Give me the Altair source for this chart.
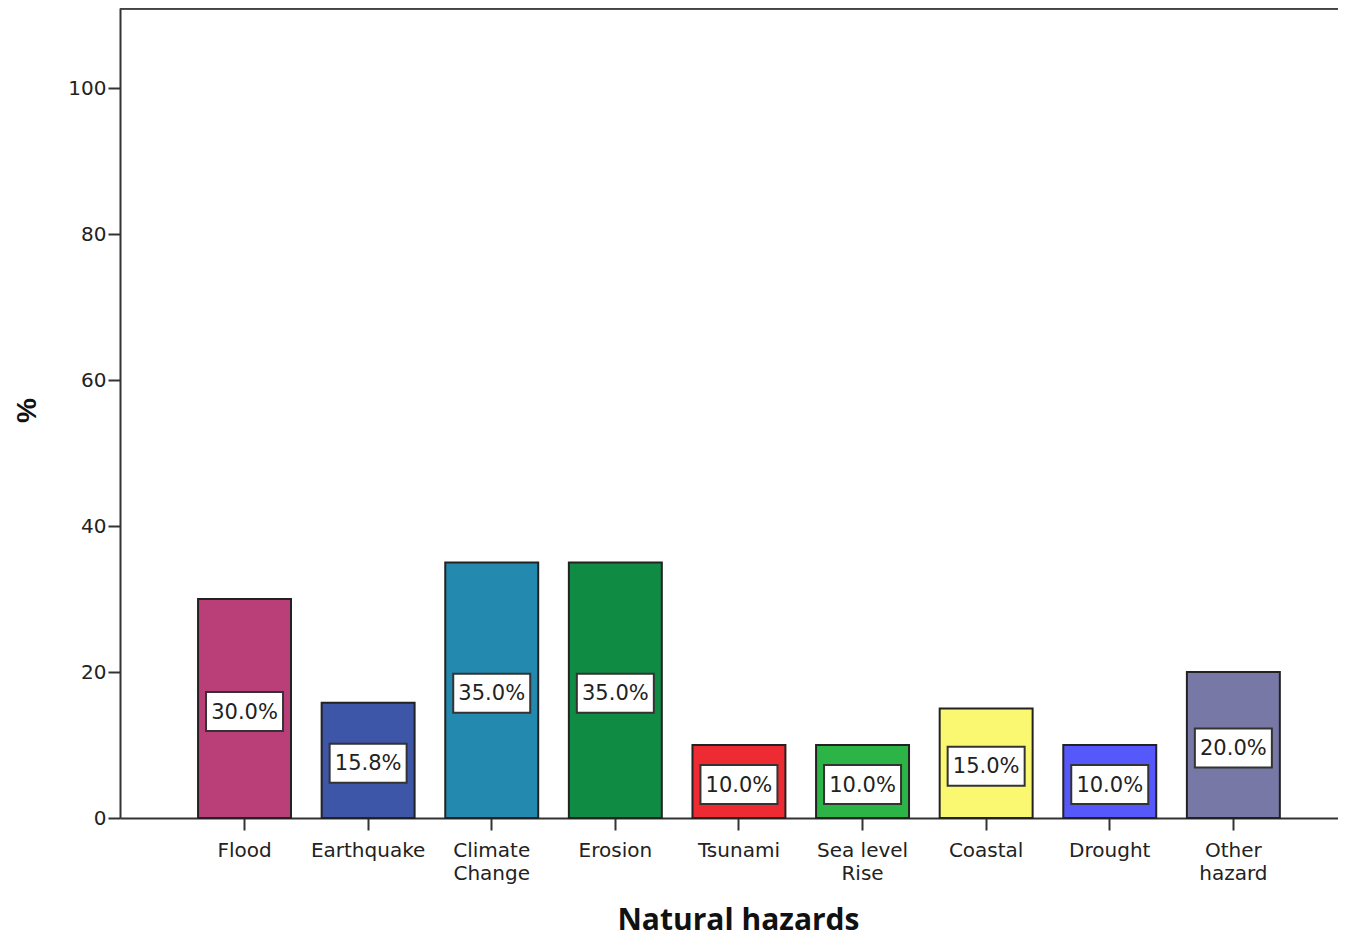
import altair as alt
import pandas as pd

categories = ["Flood", "Earthquake", "Climate|Change", "Erosion", "Tsunami",
              "Sea level|Rise", "Coastal", "Drought", "Other|hazard"]
values = [30.0, 15.8, 35.0, 35.0, 10.0, 10.0, 15.0, 10.0, 20.0]
colors = ["#BA3F78", "#3D56A8", "#2489AE", "#0F8B44", "#EE2B33",
          "#2DB446", "#FAF870", "#5558FA", "#7878A7"]
y_ticks = [0, 20, 40, 60, 80, 100]

df = pd.DataFrame({"cat": categories, "val": values, "color": colors})
df["mid"] = df["val"] / 2
df["lab"] = df["val"].map(lambda v: f"{v:.1f}%")

W, H = 1218, 810
FONT = "DejaVu Sans"

xscale = alt.Scale(domain=categories, paddingInner=0.248, paddingOuter=0.551, align=0.573)
yscale = alt.Scale(domain=[0, 111], nice=False)

x_enc = alt.X("cat:N", scale=xscale, sort=categories,
              axis=alt.Axis(title="Natural hazards", labelAngle=0,
                            labelExpr="split(datum.label, '|')",
                            labelFont=FONT, labelFontSize=20, labelColor="#222",
                            labelLineHeight=23, labelPadding=10, labelBaseline="top",
                            tickSize=12, tickWidth=2, tickColor="#333",
                            domainColor="#333", domainWidth=2,
                            titleFont="Open Sans", titleFontSize=30, titleFontWeight="bold",
                            titleColor="#111", titleX=618, titleY=111,
                            titleBaseline="alphabetic", titleAlign="center", titlePadding=0))

bars = alt.Chart(df).mark_bar(stroke="#222", strokeWidth=2).encode(
    x=x_enc,
    y=alt.Y("val:Q", scale=yscale,
            axis=alt.Axis(title="%", values=y_ticks, grid=False,
                          labelFont=FONT, labelFontSize=20, labelColor="#222",
                          labelPadding=2, tickSize=12, tickWidth=2, tickColor="#333",
                          domainColor="#333", domainWidth=2,
                          titleFont="Liberation Sans", titleFontSize=28, titleFontWeight="bold",
                          titleColor="#111", titleAngle=-90, titleX=-93, titleY=402,
                          titleBaseline="middle", titleAlign="center")),
    color=alt.Color("color:N", scale=None),
)

box_path = "M-1,-0.506L1,-0.506L1,0.506L-1,0.506Z"
boxes = alt.Chart(df).mark_point(shape=box_path, size=77 * 77, filled=True,
                                 fill="white", stroke="#333", strokeWidth=2,
                                 opacity=1, yOffset=3).encode(
    x=alt.X("cat:N", scale=xscale, sort=categories),
    y=alt.Y("mid:Q", scale=yscale),
)

texts = alt.Chart(df).mark_text(font=FONT, fontSize=21, color="#222",
                                baseline="middle", align="center", dy=4).encode(
    x=alt.X("cat:N", scale=xscale, sort=categories),
    y=alt.Y("mid:Q", scale=yscale),
    text="lab:N",
)

top_rule = alt.Chart(df).mark_rule(stroke="#444", strokeWidth=2.5).encode(
    x=alt.value(0), x2=alt.value(W), y=alt.value(0)
)

chart = alt.layer(bars, boxes, texts, top_rule).properties(
    width=W, height=H,
    autosize=alt.AutoSizeParams(type="none"),
    padding={"left": 112, "top": 0, "right": 0, "bottom": 122},
).configure_view(stroke=None).configure(background="white")

chart.save("out.html", embed_options={"renderer": "svg", "actions": False})
